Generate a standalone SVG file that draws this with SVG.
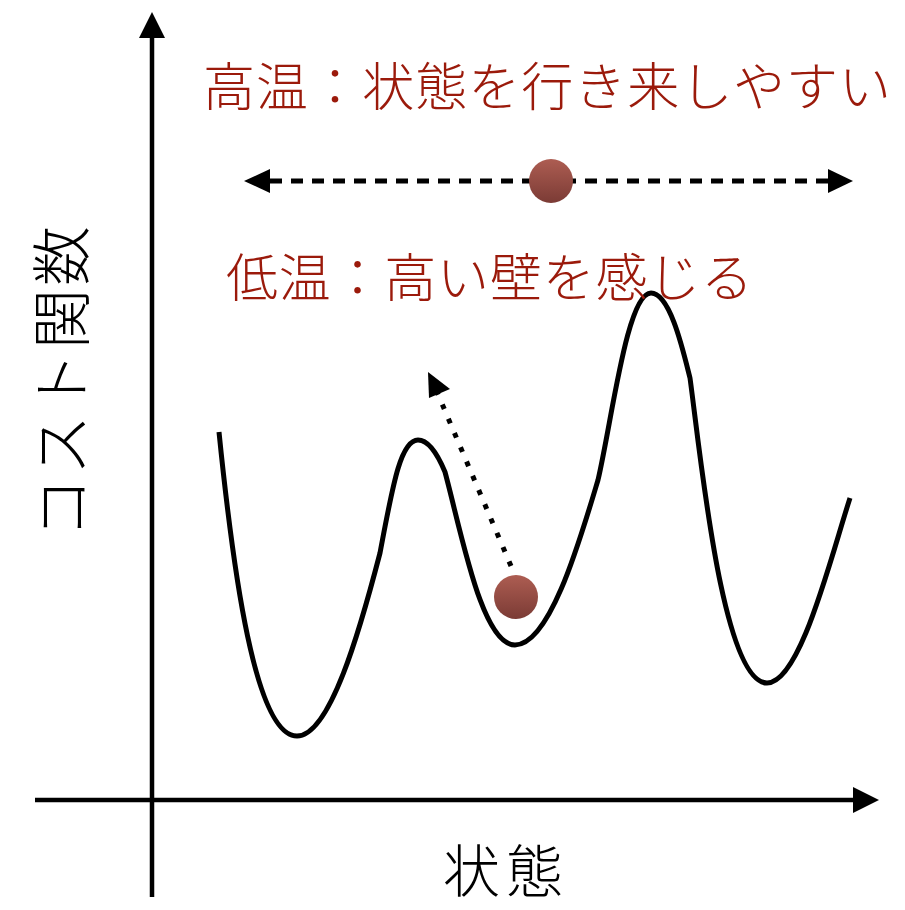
<svg xmlns="http://www.w3.org/2000/svg" width="905" height="910" viewBox="0 0 905 910">
<defs>
<style>
.axis{stroke:#000;stroke-width:4.5;fill:none}
.curve{stroke:#000;stroke-width:5;fill:none;stroke-linejoin:round}
.red{font-family:"Noto Sans CJK JP","Noto Sans",sans-serif;fill:#9b1a0b;font-size:52px;font-weight:300}
.blk{font-family:"Noto Sans CJK JP","Noto Sans",sans-serif;fill:#000;font-size:57px;font-weight:300}
</style>
<linearGradient id="ballg" x1="0" y1="0" x2="0" y2="1">
<stop offset="0" stop-color="#ad5d52"/>
<stop offset="1" stop-color="#7b3b35"/>
</linearGradient>
</defs>
<g id="axes">
<line id="y-axis" class="axis" x1="152" y1="897" x2="152" y2="37"/>
<polygon points="152,12 139,38 165,38" fill="#000"/>
<line id="x-axis" class="axis" x1="35" y1="800" x2="853" y2="800"/>
<polygon points="879,800 853,787 853,813" fill="#000"/>
</g>
<g id="cost-curve">
<path class="curve" d="M219,432 C233,570 255,736 297,736 C330,736 360,630 380,553 C392,490 400,440 418,440 C430,440 440,460 445,472 C462,535 482,645 515,645 C550,645 580,540 598,480 C612,420 627,293 651,293 C670,293 683,350 690,378 C700,450 722,683 767,683 C800,683 830,560 850,498"/>
</g>
<g id="connectors">
<line x1="270" y1="181" x2="828" y2="181" stroke="#000" stroke-width="5" stroke-dasharray="12 9"/>
<polygon points="244,181 270,169 270,193" fill="#000"/>
<polygon points="853,181 828,169 828,193" fill="#000"/>
<line x1="511" y1="566" x2="437" y2="392" stroke="#000" stroke-width="5" stroke-dasharray="5 10.5"/>
<polygon points="428,372 429,398 450,389" fill="#000"/>
</g>
<g id="ball-high">
<circle cx="551" cy="181" r="22" fill="url(#ballg)"/>
</g>
<g id="ball-low">
<circle cx="516" cy="597" r="22" fill="url(#ballg)"/>
</g>
<g id="labels">
<text class="red" x="203" y="106" textLength="688" lengthAdjust="spacing">高温：状態を行き来しやすい</text>
<text class="red" x="226" y="297" textLength="527" lengthAdjust="spacing">低温：高い壁を感じる</text>
<text class="blk" x="503" y="892" text-anchor="middle" textLength="120" lengthAdjust="spacing">状態</text>
<text class="blk" transform="translate(84,382) rotate(-90)" text-anchor="middle" textLength="312" lengthAdjust="spacing" style="font-size:60px">コスト関数</text>
</g>
</svg>
